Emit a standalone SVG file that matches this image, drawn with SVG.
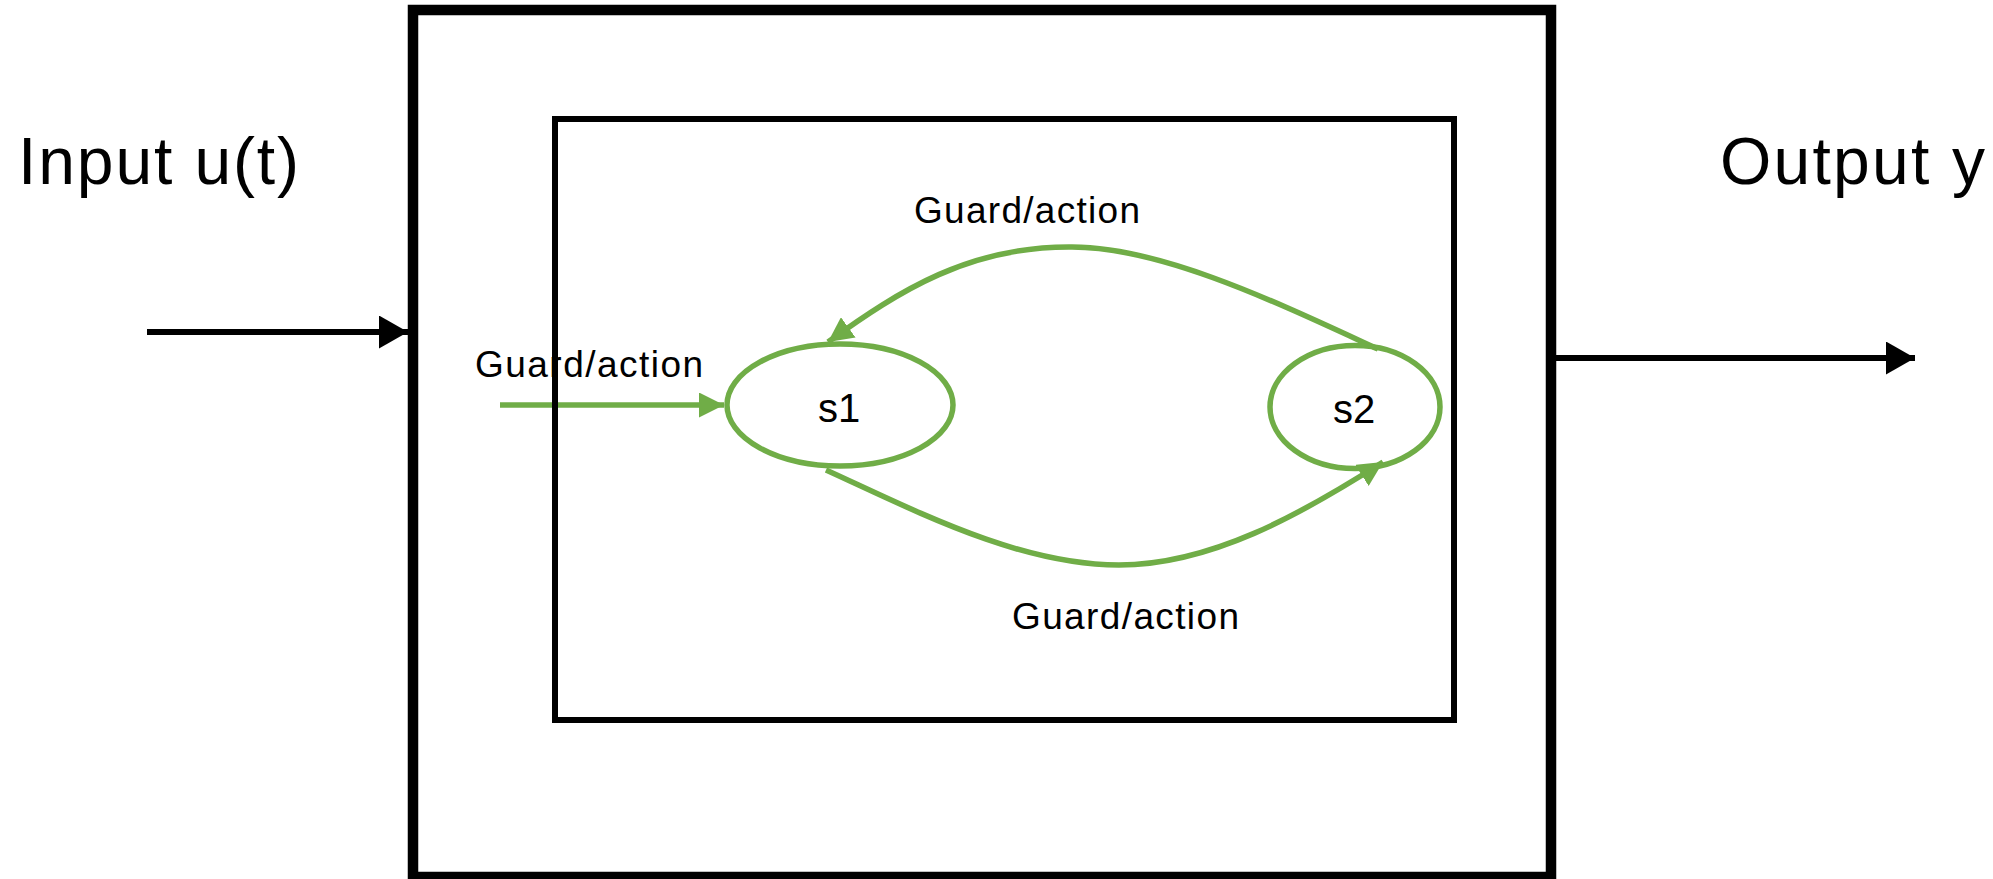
<svg xmlns="http://www.w3.org/2000/svg" width="1993" height="879" viewBox="0 0 1993 879">
<style>
.box{fill:none;stroke:#000}
.st{fill:none;stroke:#70AD47;stroke-width:5.5}
.blk{fill:none;stroke:#000;stroke-width:6}
text{font-family:"Liberation Sans",Arial,sans-serif;fill:#000}
.big{font-size:66px}
.lbl{font-size:37px}
.sn{font-size:40px;text-anchor:middle}
</style>
<defs>
<marker id="ga" markerUnits="userSpaceOnUse" viewBox="0 0 25 25" markerWidth="25" markerHeight="25" refX="25" refY="12.5" orient="auto">
<path d="M0,0 L25,12.5 L0,25 z" fill="#70AD47"/>
</marker>
<marker id="ba" markerUnits="userSpaceOnUse" viewBox="0 0 29 33" markerWidth="29" markerHeight="33" refX="29" refY="16.5" orient="auto">
<path d="M0,0 L29,16.5 L0,33 z" fill="#000"/>
</marker>
</defs>
<rect width="1993" height="879" fill="#fff"/>
<g id="system">
<rect class="box" x="413" y="10" width="1138" height="867" stroke-width="10.5"/>
</g>
<g id="connectors">
<line class="blk" x1="147" y1="332" x2="408" y2="332" marker-end="url(#ba)"/>
<line class="blk" x1="1554" y1="358" x2="1915" y2="358" marker-end="url(#ba)"/>
<line class="st" x1="500" y1="405" x2="724" y2="405" marker-end="url(#ga)"/>
<path class="st" d="M1378,349 C1278,303 1162,247 1072,247 C970,246 900,290 828,342" marker-end="url(#ga)"/>
<path class="st" d="M826,470 C916,511 1019,565 1119,565 C1210,565 1300,515 1383,462" marker-end="url(#ga)"/>
</g>
<g id="machine">
<rect class="box" x="555" y="119" width="899" height="601" stroke-width="6"/>
</g>
<g id="s1">
<ellipse class="st" cx="840" cy="405" rx="113" ry="61"/>
<text class="sn" x="839" y="422">s1</text>
</g>
<g id="s2">
<ellipse class="st" cx="1355" cy="407" rx="85" ry="61.5"/>
<text class="sn" x="1354" y="423">s2</text>
</g>
<g id="labels">
<text class="big" x="18" y="184" textLength="281">Input u(t)</text>
<text class="big" x="1720" y="184" textLength="265">Output y</text>
<text class="lbl" x="914" y="223" textLength="226">Guard/action</text>
<text class="lbl" x="475" y="377" textLength="228">Guard/action</text>
<text class="lbl" x="1012" y="629" textLength="227">Guard/action</text>
</g>
</svg>
